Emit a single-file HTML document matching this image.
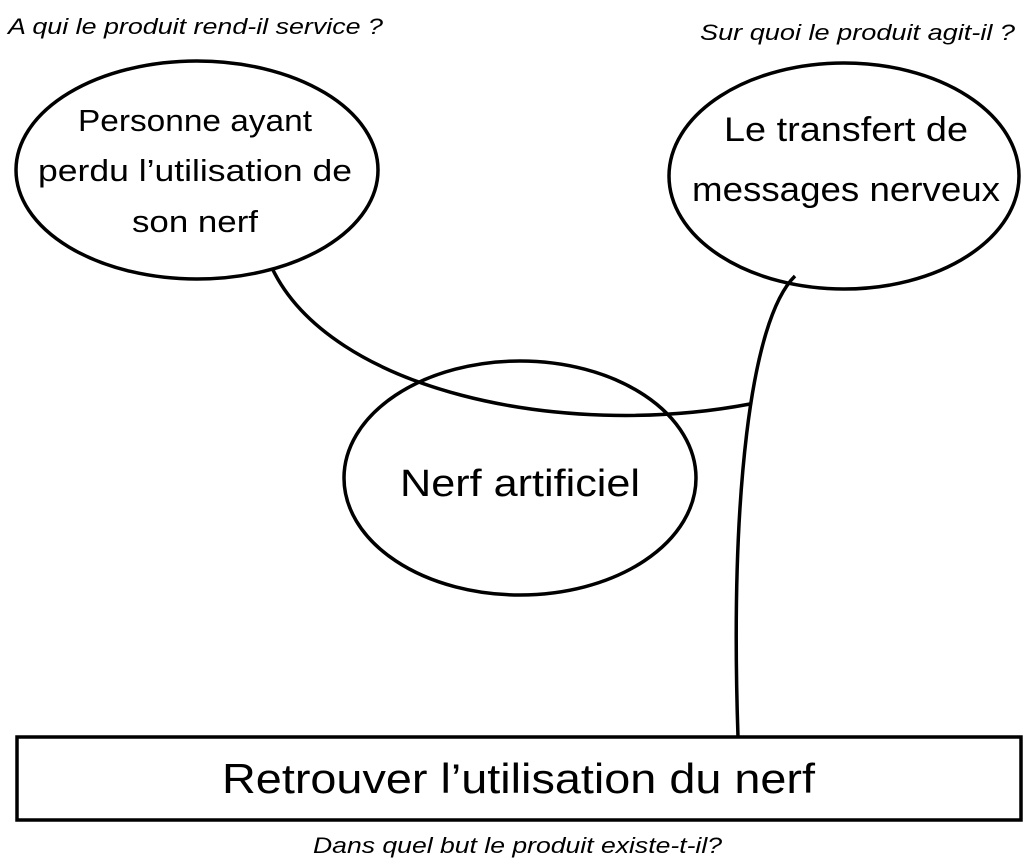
<!DOCTYPE html>
<html><head><meta charset="utf-8"><style>
html,body{margin:0;padding:0;background:#fff;}
svg{display:block;}
text{font-family:"Liberation Sans",sans-serif;fill:#000;}
.i{font-style:italic;font-size:22px;}
</style></head><body>
<svg width="1026" height="867" viewBox="0 0 1026 867">
<g fill="none" stroke="#000" stroke-width="3.5">
<ellipse cx="197" cy="170" rx="181" ry="109"/>
<ellipse cx="844" cy="176" rx="175" ry="113"/>
<ellipse cx="520" cy="478" rx="176" ry="117"/>
<rect x="17" y="737" width="1004" height="83"/>
<path d="M272,268 C330,390 560,440 750,404"/>
<path d="M795,276 C750,320 730,500 738,737"/>
</g>
<text class="i" x="8" y="34" textLength="375" lengthAdjust="spacingAndGlyphs">A qui le produit rend-il service ?</text>
<text class="i" x="700" y="40" textLength="315" lengthAdjust="spacingAndGlyphs">Sur quoi le produit agit-il ?</text>
<text class="i" x="313" y="853" textLength="409" lengthAdjust="spacingAndGlyphs">Dans quel but le produit existe-t-il?</text>
<g font-size="31" lengthAdjust="spacingAndGlyphs">
<text x="78" y="131" textLength="234" lengthAdjust="spacingAndGlyphs">Personne ayant</text>
<text x="38" y="181" textLength="314" lengthAdjust="spacingAndGlyphs">perdu l’utilisation de</text>
<text x="132" y="232" textLength="126" lengthAdjust="spacingAndGlyphs">son nerf</text>
<text x="724" y="141" font-size="34" textLength="244" lengthAdjust="spacingAndGlyphs">Le transfert de</text>
<text x="692" y="201" font-size="34" textLength="308" lengthAdjust="spacingAndGlyphs">messages nerveux</text>
<text x="400" y="496" font-size="38" textLength="240" lengthAdjust="spacingAndGlyphs">Nerf artificiel</text>
<text x="222" y="793" font-size="42" textLength="593" lengthAdjust="spacingAndGlyphs">Retrouver l’utilisation du nerf</text>
</g>
</svg>
</body></html>
